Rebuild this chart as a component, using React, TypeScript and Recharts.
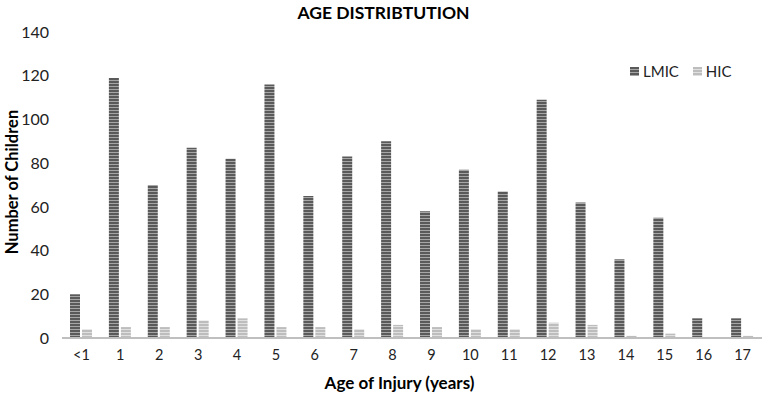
import { BarChart, Bar, XAxis, YAxis } from 'recharts'

const ages = ['<1', '1', '2', '3', '4', '5', '6', '7', '8', '9', '10', '11', '12', '13', '14', '15', '16', '17']
const lmic = [20, 119, 70, 87, 82, 116, 65, 83, 90, 58, 77, 67, 109, 62, 36, 55, 9, 9]
const hic = [4, 5, 5, 8, 9, 5, 5, 4, 6, 5, 4, 4, 7, 6, 1, 2, 0, 1]
const yTicks = [0, 20, 40, 60, 80, 100, 120, 140]

const data = ages.map((age, i) => ({ age, LMIC: lmic[i], HIC: hic[i] }))

const FONT = 'Lato, "Open Sans", sans-serif'

function LegendBox() {
  const items = [
    { name: 'LMIC', fill: 'url(#stripeDark)' },
    { name: 'HIC', fill: 'url(#stripeLight)' },
  ]
  return (
    <div style={{
      position: 'absolute', top: 62, left: 630, display: 'flex', gap: '14px',
      fontFamily: FONT, fontSize: '15px', color: '#222'
    }}>
      {items.map(it => (
        <div key={it.name} style={{ display: 'flex', alignItems: 'center', gap: '4px' }}>
          <svg width={9} height={9}>
            <rect width={9} height={9} fill={it.fill} />
          </svg>
          <span>{it.name}</span>
        </div>
      ))}
    </div>
  )
}

function App() {
  return (
    <div style={{ position: 'absolute', left: 0, top: 0, width: 767, height: 400, background: '#fff' }}>
      <svg width={0} height={0} style={{ position: 'absolute' }}>
        <defs>
          <pattern id="stripeDark" width={4} height={3} patternUnits="userSpaceOnUse">
            <rect width={4} height={3} fill="#5a5a5a" />
            <rect y={2} width={4} height={1} fill="#a6a6a6" />
          </pattern>
          <pattern id="stripeLight" width={4} height={3} patternUnits="userSpaceOnUse">
            <rect width={4} height={3} fill="#bdbdbd" />
            <rect y={2} width={4} height={1} fill="#e0e0e0" />
          </pattern>
        </defs>
      </svg>
      <div style={{
        position: 'absolute', top: 2, left: 0, width: 767, textAlign: 'center',
        fontFamily: FONT, fontWeight: 700, fontSize: '17.5px', color: '#000'
      }}>
        AGE DISTRIBTUTION
      </div>
      <div style={{
        position: 'absolute', left: 12, top: 182, transform: 'translate(-50%, -50%) rotate(-90deg)',
        whiteSpace: 'nowrap', fontFamily: FONT, fontWeight: 700, fontSize: '16.5px', color: '#000'
      }}>
        Number of Children
      </div>
      <div style={{
        position: 'absolute', top: 372, left: 0, width: 767, textAlign: 'center', paddingLeft: 32,
        boxSizing: 'border-box', fontFamily: FONT, fontWeight: 700, fontSize: '17px', color: '#000'
      }}>
        Age of Injury (years)
      </div>
      <LegendBox />
      <div style={{ position: 'absolute', left: 0, top: 0 }}>
        <BarChart
          width={767}
          height={400}
          data={data}
          margin={{ top: 32, right: 5, bottom: 32, left: 0 }}
          barSize={10}
          barGap={2}
        >
          <XAxis
            dataKey="age"
            axisLine={{ stroke: '#bfbfbf', strokeWidth: 2 }}
            tickLine={false}
            interval={0}
            height={30}
            tick={{ fill: '#222', fontSize: 14.5, fontFamily: FONT }}
            tickMargin={6}
          />
          <YAxis
            domain={[0, 140]}
            ticks={yTicks}
            axisLine={false}
            tickLine={false}
            width={62}
            tick={{ fill: '#222', fontSize: 16, fontFamily: FONT }}
            tickMargin={7}
          />
          <Bar dataKey="LMIC" fill="url(#stripeDark)" isAnimationActive={false} />
          <Bar dataKey="HIC" fill="url(#stripeLight)" isAnimationActive={false} />
        </BarChart>
      </div>
    </div>
  )
}

export default App
